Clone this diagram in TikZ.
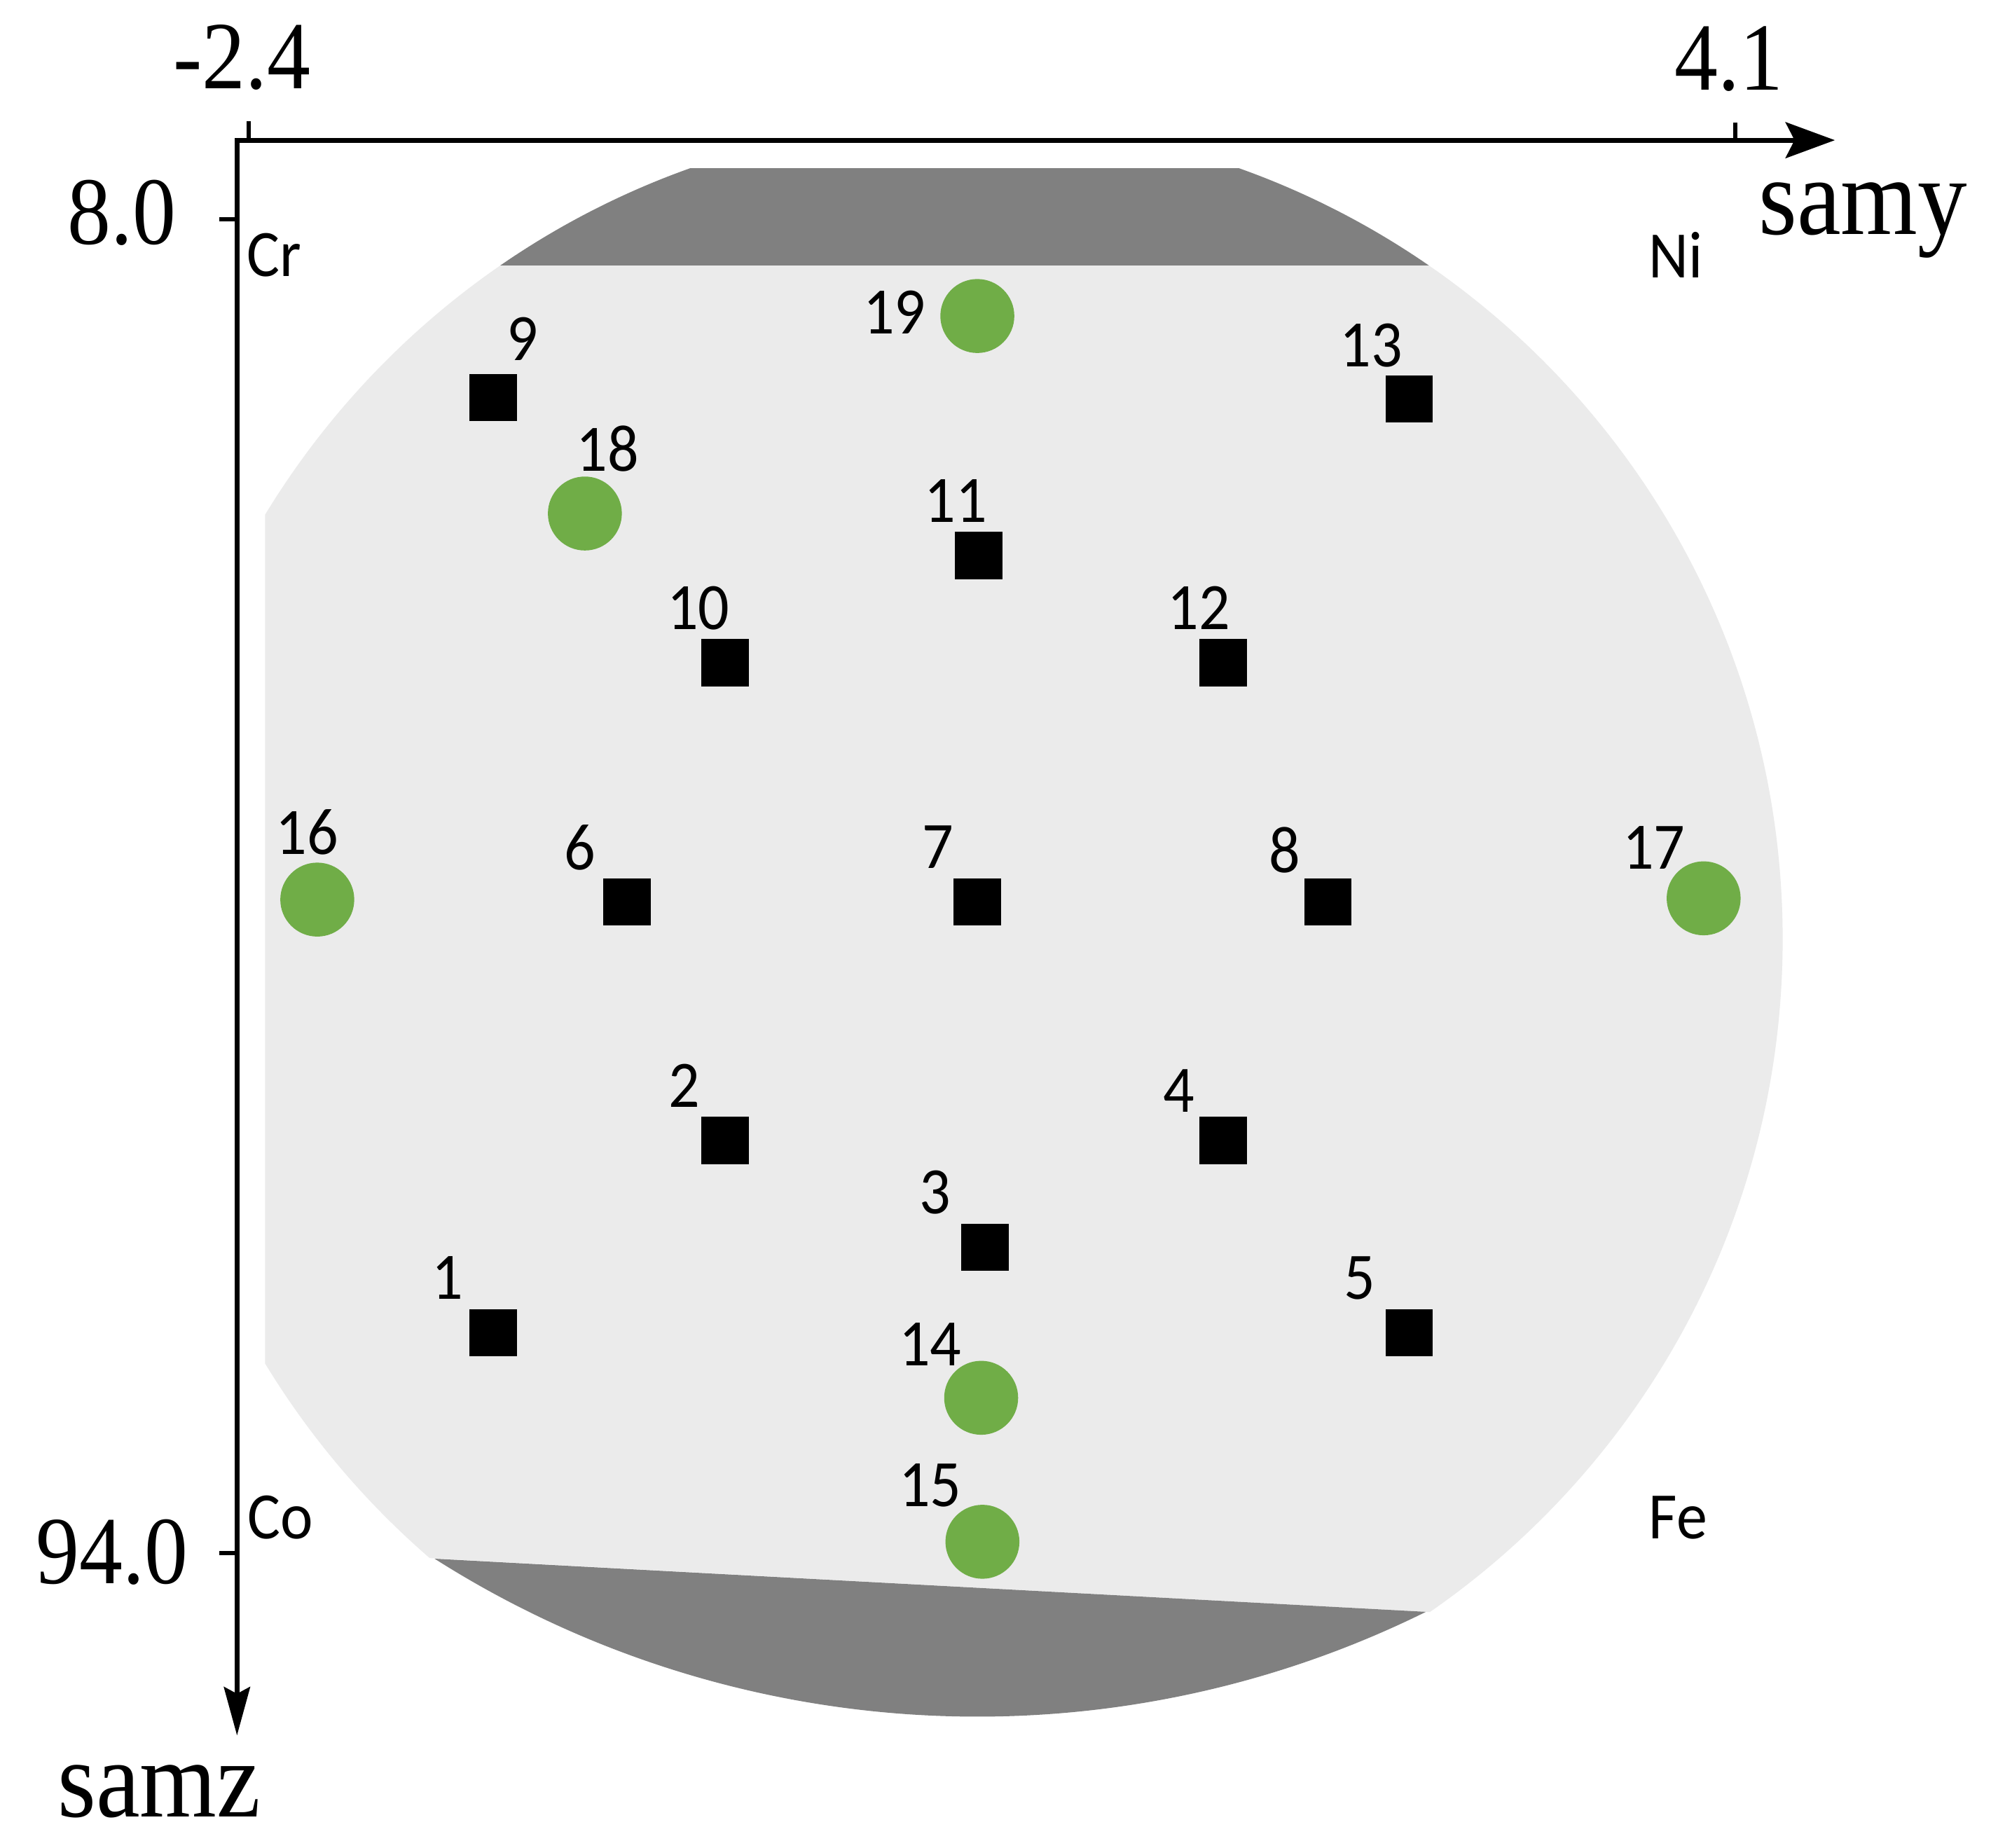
\documentclass[tikz,border=0pt]{standalone}
\usepackage{fontspec}
\usetikzlibrary{arrows.meta}
\newfontfamily\serifaxis[FakeStretch=0.9]{Liberation Serif}
\newfontfamily\sanslab[FakeStretch=0.93]{Carlito}
\definecolor{wafer}{RGB}{235,235,235}
\definecolor{waferdark}{RGB}{128,128,128}
\definecolor{dotgreen}{RGB}{112,173,71}
\begin{document}
\begin{tikzpicture}[x=0.01cm,y=-0.01cm,
  sq/.style={shape=rectangle, fill=black, draw=none, minimum size=0.37cm, inner sep=0pt},
  gdot/.style={shape=circle, fill=dotgreen, draw=none, minimum size=0.58cm, inner sep=0pt},
  numlab/.style={font=\sanslab\fontsize{14.8pt}{16pt}\selectfont, inner sep=0pt},
  ellab/.style={font=\sanslab\fontsize{14.8pt}{16pt}\selectfont, inner sep=0pt},
  ticklab/.style={font=\serifaxis\fontsize{21.5pt}{24pt}\selectfont, inner sep=0pt},
  axname/.style={font=\serifaxis\fontsize{24.5pt}{28pt}\selectfont, inner sep=0pt},
  axisline/.style={line width=1.1pt, black},
  tickline/.style={line width=0.9pt, black}]
\useasboundingbox (0,0) rectangle (1568,1450);
\fill[white] (0,0) rectangle (1568,1450);
% wafer
\begin{scope}
  \clip (208,208) -- (1420,208) -- (1420,1281.25) -- (208,1215.82) -- cycle;
  \fill[wafer] (757,737) circle[radius=642];
\end{scope}
\begin{scope}
  \clip (100,132) rectangle (1500,208);
  \fill[waferdark] (757,737) circle[radius=642];
\end{scope}
\fill[waferdark] (1119,1265) arc[start angle=63.69, end angle=122.45, radius=794] -- cycle;
% axes
\coordinate (origin) at (186,110);
\coordinate (yend) at (1440,110);
\coordinate (zend) at (186,1362);
\draw[axisline, line join=miter,
  {Stealth[length=11pt,width=8pt,inset=2pt]}-{Stealth[length=10.8pt,width=5.8pt,inset=1.5pt]}]
  (yend) -- (origin) -- (zend);
\coordinate (t1a) at (195,110); \coordinate (t1b) at (195,95);
\coordinate (t2a) at (1362,110); \coordinate (t2b) at (1362,96);
\coordinate (t3a) at (186,172); \coordinate (t3b) at (172,172);
\coordinate (t4a) at (186,1219); \coordinate (t4b) at (172,1219);
\draw[tickline] (t1a) -- (t1b);
\draw[tickline] (t2a) -- (t2b);
\draw[tickline] (t3a) -- (t3b);
\draw[tickline] (t4a) -- (t4b);
\node[ticklab] (lm24) at (190,45) {-2.4};
\node[ticklab] (l41) at (1357,46) {4.1};
\node[ticklab, anchor=east] (l80) at (139,167) {8.0};
\node[ticklab, anchor=east] (l940) at (148,1218) {94.0};
\node[axname, anchor=base] (samy) at (1462,184) {samy};
\node[axname, anchor=base] (samz) at (125,1426) {samz};
% element corners
\node[ellab] (cr) at (215,200) {Cr};
\node[ellab] (ni) at (1315,200) {Ni};
\node[ellab] (co) at (220,1191) {Co};
\node[ellab] (fe) at (1317,1191) {Fe};
% squares
\node[sq] (p1) at (387,1046) {};
\node[sq] (p2) at (569,895) {};
\node[sq] (p3) at (773,979) {};
\node[sq] (p4) at (960,895) {};
\node[sq] (p5) at (1106,1046) {};
\node[sq] (p6) at (492,708) {};
\node[sq] (p7) at (767,708) {};
\node[sq] (p8) at (1042,708) {};
\node[sq] (p9) at (387,312) {};
\node[sq] (p10) at (569,520) {};
\node[sq] (p11) at (768,436) {};
\node[sq] (p12) at (960,520) {};
\node[sq] (p13) at (1106,313) {};
% green dots
\node[gdot] (p14) at (770,1097) {};
\node[gdot] (p15) at (771,1210) {};
\node[gdot] (p16) at (249,706) {};
\node[gdot] (p17) at (1337,705) {};
\node[gdot] (p18) at (459,403) {};
\node[gdot] (p19) at (767,248) {};
% labels
\node[numlab] (n1) at (351,1003) {1};
\node[numlab] (n2) at (537,852) {2};
\node[numlab] (n3) at (734,936) {3};
\node[numlab] (n4) at (925,856) {4};
\node[numlab] (n5) at (1067,1003) {5};
\node[numlab] (n6) at (455,665) {6};
\node[numlab] (n7) at (736,665) {7};
\node[numlab] (n8) at (1008,667) {8};
\node[numlab] (n9) at (410,266) {9};
\node[numlab] (n10) at (548,477) {10};
\node[numlab] (n11) at (750,393) {11};
\node[numlab] (n12) at (941,477) {12};
\node[numlab] (n13) at (1076,271) {13};
\node[numlab] (n14) at (730,1055) {14};
\node[numlab] (n15) at (730,1166) {15};
\node[numlab] (n16) at (241,653) {16};
\node[numlab] (n17) at (1298,665) {17};
\node[numlab] (n18) at (477,352) {18};
\node[numlab] (n19) at (702,245) {19};
\end{tikzpicture}
\end{document}
